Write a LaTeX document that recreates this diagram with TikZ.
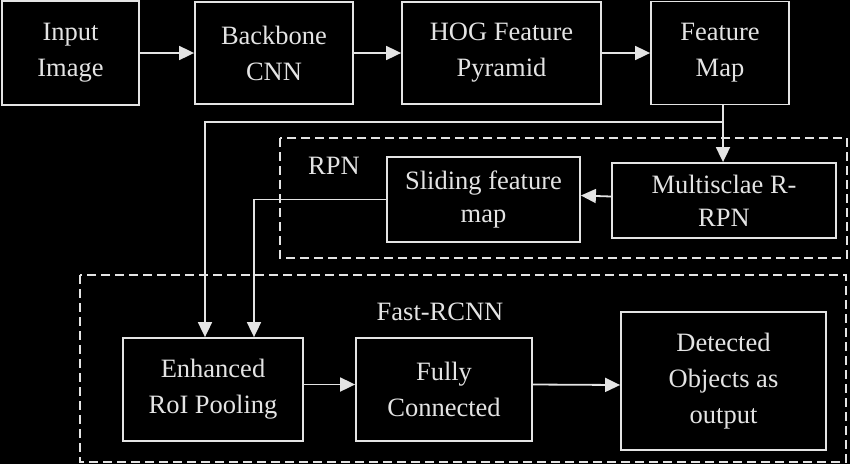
\documentclass[tikz,border=0pt]{standalone}
\usepackage{fontspec}
\setmainfont{Liberation Serif}
\usetikzlibrary{arrows.meta,calc}
\definecolor{hell}{RGB}{228,228,228}

\begin{document}
\begin{tikzpicture}[x=1pt,y=-1pt,
  kasten/.style={draw=hell,line width=1.8pt,text=hell,align=center,inner sep=0pt,font=\fontsize{26.5}{36}\selectfont},
  eng/.style={font=\fontsize{26.5}{33}\selectfont},
  pfeil/.style={draw=hell,line width=1.8pt,-{Triangle[length=15pt,width=14pt]}},
  gruppe/.style={draw=hell,line width=1.6pt,dash pattern=on 9pt off 5pt},
  titel/.style={text=hell,anchor=base,font=\fontsize{26.5}{36}\selectfont}]
  \useasboundingbox[fill=black] (0,0) rectangle (850,464);

  %gestrichelte Rahmen
  \draw[gruppe] (280,138) rectangle (847,258);
  \draw[gruppe] (80,275) rectangle (846,462);
  \node[titel] (rpn) at (334,174){RPN};
  \node[titel] (fast) at (440,320){Fast-RCNN};

  %Kaesten oben
  \node[kasten,minimum width=137pt,minimum height=104pt] (inp) at (70.5,53){Input\\Image};
  \node[kasten,minimum width=158pt,minimum height=102pt] (bb) at (274,53){Backbone\\CNN};
  \node[kasten,minimum width=199pt,minimum height=102pt] (hog) at (501.5,53){HOG Feature\\Pyramid};
  \node[kasten,minimum width=138pt,minimum height=103pt] (fm) at (720,53){Feature\\Map};
  %RPN
  \node[kasten,eng,minimum width=193pt,minimum height=85pt] (slide) at (483.5,199.5){Sliding feature\\map};
  \node[kasten,eng,minimum width=224pt,minimum height=75pt] (multi) at (724,200.5){Multisclae R-\\RPN};
  %Fast-RCNN
  \node[kasten,minimum width=180pt,minimum height=103pt] (enh) at (213,389.5){Enhanced\\RoI Pooling};
  \node[kasten,minimum width=176pt,minimum height=103pt] (fc) at (444,389.5){Fully\\Connected};
  \node[kasten,minimum width=205pt,minimum height=138pt] (det) at (723.5,381){Detected\\Objects as\\output};

  %Pfeile
  \draw[pfeil] (inp.east) -- (bb.west);
  \draw[pfeil] (bb.east) -- (hog.west);
  \draw[pfeil] (hog.east) -- (fm.west);
  \coordinate (abzw) at (723,122);
  \draw[pfeil] (fm.south -| abzw) -- (abzw |- multi.north);
  \draw[pfeil] (abzw) -| ([xshift=-8pt]enh.north);
  \draw[pfeil] ([yshift=4pt]multi.west) -- ([yshift=4pt]slide.east);
  \draw[pfeil] (slide.west) -| ([xshift=41pt]enh.north);
  \draw[pfeil] ([yshift=5pt]enh.east) -- ([yshift=5pt]fc.west);
  \draw[pfeil] ([yshift=5pt]fc.east) -- ([yshift=-4pt]det.west);
\end{tikzpicture}
\end{document}
